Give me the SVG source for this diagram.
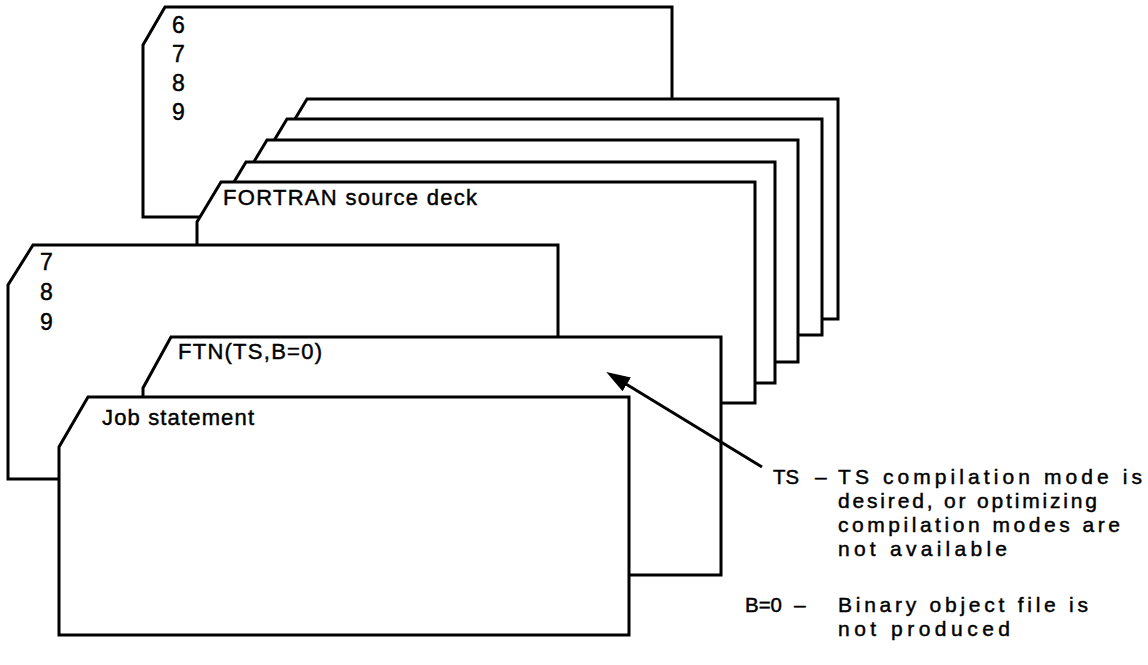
<svg xmlns="http://www.w3.org/2000/svg" width="1148" height="665" viewBox="0 0 1148 665">
<style>
.card{fill:#fff;stroke:#000;stroke-width:3;stroke-linejoin:miter}
.t{font-family:"Liberation Sans",Arial,sans-serif;fill:#000;stroke:#000;stroke-width:0.45}
.lbl{font-size:22px}
.dig{font-size:23px}
.leg{font-size:21px}
.conn{stroke:#000;stroke-width:3;fill:none}
</style>
<defs>
<marker id="ah" markerUnits="userSpaceOnUse" markerWidth="24" markerHeight="16" viewBox="0 0 24 16" refX="12" refY="8" orient="auto">
<path d="M0,0 L24,8 L0,16 z" fill="#000"/>
</marker>
</defs>
<rect width="1148" height="665" fill="#fff"/>
<g id="card-6789">
<polygon class="card" points="165,7 672,7 672,217 143,217 143,45"/>
<text class="t dig" x="172" y="33">6</text>
<text class="t dig" x="172" y="62">7</text>
<text class="t dig" x="172" y="91">8</text>
<text class="t dig" x="172" y="120">9</text>
</g>
<g id="deck-card-1"><polygon class="card" points="307,99 838,99 838,319 283,319 283,139"/></g>
<g id="deck-card-2"><polygon class="card" points="287,119 822,119 822,335 263,335 263,159"/></g>
<g id="deck-card-3"><polygon class="card" points="267,140 798,140 798,362 243,362 243,180"/></g>
<g id="deck-card-4"><polygon class="card" points="246,162 775,162 775,383 222,383 222,202"/></g>
<g id="fortran-source">
<polygon class="card" points="221,182 755,182 755,403 197,403 197,222"/>
<text class="t lbl" x="223" y="205" textLength="254" lengthAdjust="spacing">FORTRAN source deck</text>
</g>
<g id="card-789">
<polygon class="card" points="33,245 558,245 558,479 8,479 8,285"/>
<text class="t dig" x="40" y="270">7</text>
<text class="t dig" x="40" y="300">8</text>
<text class="t dig" x="40" y="330">9</text>
</g>
<g id="ftn-card">
<polygon class="card" points="171,337 721,337 721,575 143,575 143,388"/>
<text class="t lbl" x="178" y="359" textLength="144" lengthAdjust="spacing">FTN(TS,B=0)</text>
</g>
<g id="job-card">
<polygon class="card" points="88,397 629,397 629,635 59,635 59,447"/>
<text class="t lbl" x="102" y="425" textLength="152" lengthAdjust="spacing">Job statement</text>
</g>
<g id="connectors">
<line class="conn" x1="762" y1="467" x2="616.5" y2="378.2" marker-end="url(#ah)"/>
</g>
<g id="legend">
<text class="t leg" x="773" y="484" textLength="26" lengthAdjust="spacingAndGlyphs">TS</text>
<text class="t leg" x="815" y="484">–</text>
<text class="t leg" x="838" y="484" textLength="304" lengthAdjust="spacing">TS compilation mode is</text>
<text class="t leg" x="838" y="508" textLength="259" lengthAdjust="spacing">desired, or optimizing</text>
<text class="t leg" x="838" y="532" textLength="282" lengthAdjust="spacing">compilation modes are</text>
<text class="t leg" x="838" y="556" textLength="169" lengthAdjust="spacing">not available</text>
<text class="t leg" x="745" y="612" textLength="37" lengthAdjust="spacingAndGlyphs">B=0</text>
<text class="t leg" x="794" y="612">–</text>
<text class="t leg" x="838" y="612" textLength="250" lengthAdjust="spacing">Binary object file is</text>
<text class="t leg" x="838" y="636" textLength="172" lengthAdjust="spacing">not produced</text>
</g>
</svg>
